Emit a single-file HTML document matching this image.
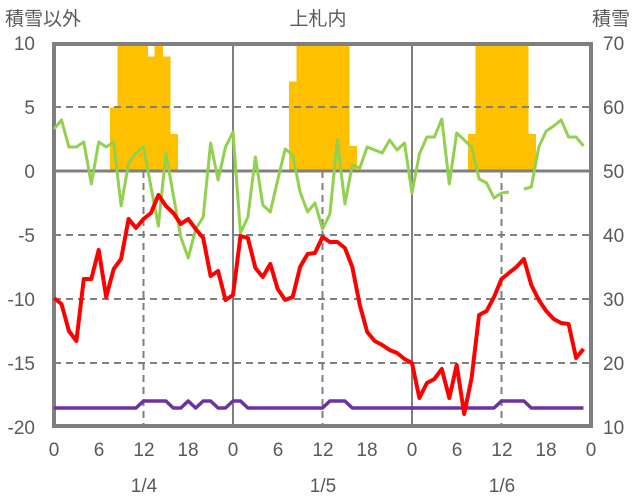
<!DOCTYPE html>
<html><head><meta charset="utf-8"><style>
html,body{margin:0;padding:0;background:#fff;}
svg{display:block;}
text{font-family:"Liberation Sans","Noto Sans CJK JP",sans-serif;fill:#595959;font-size:19px;}
</style></head><body>
<svg id="s" width="636" height="501" viewBox="0 0 636 501" xmlns="http://www.w3.org/2000/svg">
<g id="bars" fill="#FFC000" shape-rendering="crispEdges"></g>
<g stroke="#7f7f7f" stroke-width="2" stroke-dasharray="7,5" fill="none">
<line x1="54" y1="107" x2="591" y2="107"/>
<line x1="54" y1="235" x2="591" y2="235"/>
<line x1="54" y1="299" x2="591" y2="299"/>
<line x1="54" y1="363" x2="591" y2="363"/>
<line x1="143.5" y1="171" x2="143.5" y2="426"/>
<line x1="322.5" y1="171" x2="322.5" y2="426"/>
<line x1="501.5" y1="171" x2="501.5" y2="426"/>
</g>
<g stroke="#7f7f7f" fill="none">
<line x1="233" y1="44" x2="233" y2="426" stroke-width="2"/>
<line x1="412" y1="44" x2="412" y2="426" stroke-width="2"/>
<line x1="54" y1="171" x2="591" y2="171" stroke-width="3"/>
<rect x="54" y="44" width="537" height="382" stroke-width="4"/>
</g>
<g id="lines" fill="none" stroke-linejoin="round"></g>
<text x="5" y="25">積雪以外</text>
<text x="318" y="25" text-anchor="middle">上札内</text>
<text x="630" y="25" text-anchor="end">積雪</text>
<g text-anchor="end">
<text x="35" y="50">10</text><text x="35" y="114">5</text><text x="35" y="178">0</text>
<text x="35" y="242">-5</text><text x="35" y="306">-10</text><text x="35" y="370">-15</text><text x="35" y="434">-20</text>
</g>
<g>
<text x="603" y="50">70</text><text x="603" y="114">60</text><text x="603" y="178">50</text>
<text x="603" y="242">40</text><text x="603" y="306">30</text><text x="603" y="370">20</text><text x="603" y="434">10</text>
</g>
<g text-anchor="middle">
<text x="54" y="456">0</text><text x="99" y="456">6</text><text x="144" y="456">12</text><text x="188" y="456">18</text>
<text x="233" y="456">0</text><text x="278" y="456">6</text><text x="323" y="456">12</text><text x="367" y="456">18</text>
<text x="412" y="456">0</text><text x="457" y="456">6</text><text x="502" y="456">12</text><text x="546" y="456">18</text>
<text x="591" y="456">0</text>
<text x="144" y="492">1/4</text><text x="323" y="492">1/5</text><text x="502" y="492">1/6</text>
</g>
</svg>
<script>
var X=function(h){return 54+h*7.458;};
var ns="http://www.w3.org/2000/svg";
var bars={8:107.7,9:44,10:44,11:44,12:44,13:56.7,14:44,15:56.7,16:134,
32:81.7,33:44,34:44,35:44,36:44,37:44,38:44,39:44,40:146,
56:134,57:44,58:44,59:44,60:44,61:44,62:44,63:44,64:134};
var bg=document.getElementById('bars');
for(var h in bars){var r=document.createElementNS(ns,'rect');var x0=X(+h-0.5);
r.setAttribute('x',x0);r.setAttribute('width',8.2);r.setAttribute('y',bars[h]);r.setAttribute('height',171-bars[h]);bg.appendChild(r);}
var green=[129,120,147,147,142,184,142,147,142,206,163,153,147,187,226,153,195,237,258,229,217,143,180,147,132,
233,217,157,205,212,180,149,155,192,212,203,229,214,140,204,165,168,147,150,153,140,150,143,
193,154,137,137,119,184,133,140,147,179,183,198,193,192,null,189,187,147,131,126,120,137,137,146];
var red=[298,304,331,341,279,279,250,297,269,259,219,228,219,213,195,206,213,224,219,229,238,276,271,300,295,
236,238,268,277,264,289,300,297,267,254,253,237,242,242,248,267,305,332,341,345,350,353,359,
363,398,383,379,369,398,365,414,378,315,311,297,279,273,267,259,285,300,311,319,323,324,358,349];
var purple=[];for(var i=0;i<72;i++)purple.push(408);
[12,13,14,15,18,20,21,24,25,37,38,39,60,61,62,63].forEach(function(i){purple[i]=401;});
var lg=document.getElementById('lines');
function draw(arr,col,w){var segs=[],cur=[];arr.forEach(function(v,i){if(v==null){if(cur.length)segs.push(cur);cur=[];}else cur.push(X(i).toFixed(1)+','+v);});
if(cur.length)segs.push(cur);segs.forEach(function(s){var p=document.createElementNS(ns,'polyline');p.setAttribute('points',s.join(' '));p.setAttribute('stroke',col);p.setAttribute('stroke-width',w);lg.appendChild(p);});}
draw(purple,'#7030A0',3.5);
draw(green,'#92D050',3);
draw(red,'#FF0000',4);
</script>
</body></html>
